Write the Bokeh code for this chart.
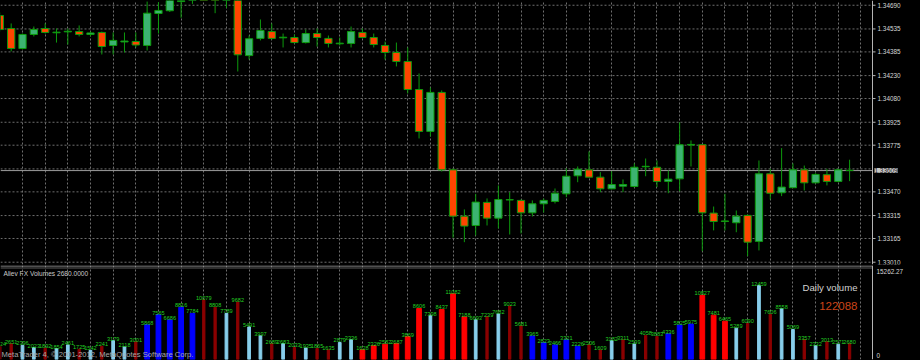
from bokeh.plotting import figure
from bokeh.layouts import column
from bokeh.models import Range1d, FixedTicker, Span, Label, ColumnDataSource, Grid
from bokeh.embed import file_html
from bokeh.resources import INLINE
from bokeh.core.properties import value

# ---------------- data ----------------
opens = [1.34623, 1.34538, 1.34407, 1.34499, 1.34538, 1.34510, 1.34516, 1.34518, 1.34499, 1.34512,
         1.34427, 1.34450, 1.34453, 1.34427, 1.34636, 1.34654, 1.34714, 1.34799, 1.34917, 1.34852,
         1.34760, 1.34839, 1.34361, 1.34473, 1.34518, 1.34477, 1.34479, 1.34446, 1.34505, 1.34473,
         1.34438, 1.34440, 1.34512, 1.34479, 1.34427, 1.34381, 1.34322, 1.34139, 1.33865, 1.34120,
         1.33614, 1.33311, 1.33250, 1.33401, 1.33298, 1.33417, 1.33414, 1.33333, 1.33392, 1.33407,
         1.33457, 1.33575, 1.33614, 1.33566, 1.33490, 1.33507, 1.33505, 1.33634, 1.33631, 1.33538,
         1.33555, 1.33776, 1.33778, 1.33331, 1.33280, 1.33268, 1.33316, 1.33146, 1.33588, 1.33464,
         1.33497, 1.33614, 1.33529, 1.33582, 1.33538, 1.33611]
highs = [1.34643, 1.34571, 1.34505, 1.34551, 1.34571, 1.34538, 1.34538, 1.34558, 1.34518, 1.34518,
         1.34512, 1.34512, 1.34512, 1.34714, 1.34710, 1.34819, 1.34884, 1.34956, 1.34982, 1.34904,
         1.34917, 1.34904, 1.34492, 1.34597, 1.34571, 1.34505, 1.34499, 1.34531, 1.34538, 1.34492,
         1.34479, 1.34551, 1.34538, 1.34505, 1.34453, 1.34446, 1.34414, 1.34244, 1.34152, 1.34133,
         1.33623, 1.33355, 1.33457, 1.33427, 1.33512, 1.33468, 1.33420, 1.33414, 1.33427, 1.33492,
         1.33623, 1.33636, 1.33734, 1.33599, 1.33605, 1.33551, 1.33656, 1.33688, 1.33675, 1.33610,
         1.33925, 1.33806, 1.33780, 1.33374, 1.33457, 1.33348, 1.33322, 1.33675, 1.33621, 1.33756,
         1.33656, 1.33642, 1.33592, 1.33621, 1.33621, 1.33680]
lows = [1.34518, 1.34388, 1.34401, 1.34486, 1.34505, 1.34446, 1.34433, 1.34486, 1.34486, 1.34368,
        1.34368, 1.34381, 1.34414, 1.34394, 1.34505, 1.34646, 1.34608, 1.34699, 1.34747, 1.34638,
        1.34673, 1.34257, 1.34335, 1.34460, 1.34466, 1.34414, 1.34440, 1.34440, 1.34420, 1.34414,
        1.34427, 1.34414, 1.34473, 1.34414, 1.34335, 1.34290, 1.34113, 1.33819, 1.33832, 1.33603,
        1.33170, 1.33141, 1.33185, 1.33250, 1.33231, 1.33191, 1.33198, 1.33309, 1.33335, 1.33394,
        1.33435, 1.33533, 1.33564, 1.33468, 1.33486, 1.33468, 1.33499, 1.33572, 1.33501, 1.33461,
        1.33474, 1.33636, 1.33082, 1.33218, 1.33218, 1.33206, 1.33050, 1.33087, 1.33420, 1.33442,
        1.33495, 1.33479, 1.33525, 1.33512, 1.33533, 1.33540]
closes = [1.34531, 1.34407, 1.34499, 1.34531, 1.34512, 1.34514, 1.34520, 1.34499, 1.34509, 1.34420,
          1.34460, 1.34456, 1.34430, 1.34638, 1.34656, 1.34786, 1.34839, 1.34930, 1.34773, 1.34760,
          1.34852, 1.34366, 1.34471, 1.34525, 1.34473, 1.34481, 1.34446, 1.34505, 1.34479, 1.34440,
          1.34442, 1.34518, 1.34479, 1.34433, 1.34381, 1.34322, 1.34139, 1.33865, 1.34120, 1.33614,
          1.33311, 1.33246, 1.33403, 1.33298, 1.33420, 1.33419, 1.33333, 1.33392, 1.33414, 1.33461,
          1.33572, 1.33618, 1.33566, 1.33490, 1.33518, 1.33518, 1.33631, 1.33637, 1.33538, 1.33553,
          1.33778, 1.33780, 1.33333, 1.33276, 1.33276, 1.33311, 1.33141, 1.33588, 1.33461, 1.33501,
          1.33614, 1.33529, 1.33584, 1.33538, 1.33614, 1.33609]
volumes = [2224, 2651, 2396, 2023, 1892, 1854, 2461, 1725, 1542, 2241,
           3179, 2118, 3001, 5868, 7565, 6686, 8816, 7784, 10079, 8808,
           7789, 9682, 5491, 3997, 2689, 2683, 2033, 1935, 1865, 1635,
           2879, 3336, 1628, 2326, 2582, 2687, 3869, 8606, 7398, 8437,
           11082, 7188, 6693, 7239, 7682, 9023, 5681, 3965, 2823, 2466,
           3321, 2226, 2506, 1609, 3182, 3311, 2599, 4058, 3883, 4336,
           5825, 5975, 10827, 7481, 6465, 5289, 6090, 12459, 7606, 8558,
           5069, 3357, 2332, 3013, 2571, 2680]
# U = strong up (blue), u = weak up (light blue), D = strong down (red), d = weak down (dark red)
vol_kind = ["d", "d", "u", "u", "d", "u", "u", "d", "u", "d",
            "u", "u", "d", "U", "U", "U", "U", "U", "d", "d",
            "u", "d", "u", "u", "d", "u", "d", "u", "d", "d",
            "u", "u", "D", "D", "D", "D", "D", "D", "u", "D",
            "D", "D", "u", "d", "u", "d", "d", "U", "U", "U",
            "U", "U", "d", "d", "u", "d", "u", "d", "d", "U",
            "U", "U", "D", "D", "D", "u", "d", "u", "d", "u",
            "u", "d", "u", "d", "u", "d"]
price_ticks = [1.34690, 1.34535, 1.34385, 1.34230, 1.34080, 1.33925, 1.33775,
               1.33470, 1.33315, 1.33165, 1.33010]
grid_levels = [1.34690, 1.34535, 1.34385, 1.34230, 1.34080, 1.33925, 1.33775,
               1.33620, 1.33470, 1.33315, 1.33165, 1.33010]
last_price = 1.33609
vol_max = 15262.27
daily_volume = 122088
indicator_name = "Aliev FX Volumes"
last_volume_value = 2680.0

# ---------------- style constants ----------------
FONT = "Liberation Sans"
BG = "#000000"
GRID_COL = "#6e6e6e"
WICK = "#0d9a0d"
BULL = "#3cb371"
BEAR = "#ff4500"
AXIS_TXT = "#d6d6d6"
AXIS_LINE = "#b4b4b4"
PXU = 11.33                      # pixels per bar
X0 = 0.058
XR = X0 + 920 / PXU              # full width of the page
XA = X0 + 872 / PXU              # price scale border
P_TOP, P_BOT = 1.34721, 1.32995
H1, H2 = 265, 95
FRAME2 = 94
V_END = vol_max * FRAME2 / 90.5
dpp2 = V_END / FRAME2

def vy(px):
    return V_END - px * dpp2

N = len(opens)
idx = list(range(N))
vgrid_ticks = list(range(2, 77, 2))

# ---------------- price pane ----------------
p1 = figure(width=920, height=H1, x_range=Range1d(X0, XR), y_range=Range1d(P_BOT, P_TOP),
            output_backend="svg", toolbar_location=None, title=None,
            x_axis_location=None, y_axis_location=None,
            min_border_left=0, min_border_top=0, min_border_bottom=1, min_border_right=0)
p1.background_fill_color = BG
p1.border_fill_color = BG
p1.outline_line_color = None
for g in p1.grid:
    g.visible = False
p1.add_layout(Grid(dimension=0, ticker=FixedTicker(ticks=vgrid_ticks), grid_line_color=GRID_COL,
                   grid_line_dash="2 2"))
p1.segment(x0=X0, x1=XA, y0=grid_levels, y1=grid_levels, line_color=GRID_COL, line_dash="2 2",
           line_width=1)
p1.segment(x0=X0, x1=XA, y0=last_price, y1=last_price, line_color="#9c9c9c", line_width=1)

# price scale
p1.add_layout(Span(location=XA, dimension="height", line_color=AXIS_LINE, line_width=1))
p1.segment(x0=XA, x1=XA + 3 / PXU, y0=price_ticks, y1=price_ticks, line_color=AXIS_LINE)
p1.text(x=XA, y=price_ticks, text=[f"{t:.5f}" for t in price_ticks], x_offset=5,
        text_font=value(FONT), text_font_size="6.4px", text_color=AXIS_TXT,
        text_baseline="middle", text_align="left")

bull = [i for i in idx if closes[i] >= opens[i]]
bear = [i for i in idx if closes[i] < opens[i]]
p1.segment(x0=idx, y0=lows, x1=idx, y1=highs, line_color=WICK, line_width=1)
p1.vbar(x=bull, width=0.64, top=[closes[i] for i in bull], bottom=[opens[i] for i in bull],
        fill_color=BULL, line_color=WICK, line_width=1)
p1.vbar(x=bear, width=0.64, top=[opens[i] for i in bear], bottom=[closes[i] for i in bear],
        fill_color=BEAR, line_color=WICK, line_width=1)

p1.add_layout(Label(x=XA, y=last_price, x_offset=2, text=f"{last_price:.5f}", text_baseline="middle",
                    text_font=FONT, text_font_size="6.4px", text_color="#1a1a1a",
                    background_fill_color="#c6c6c6"))

# ---------------- volume pane ----------------
p2 = figure(width=920, height=H2, x_range=p1.x_range, y_range=Range1d(0, V_END),
            output_backend="svg", toolbar_location=None, title=None,
            x_axis_location=None, y_axis_location=None,
            min_border_left=0, min_border_top=0, min_border_bottom=1, min_border_right=0)
p2.background_fill_color = BG
p2.border_fill_color = BG
p2.outline_line_color = None
for g in p2.grid:
    g.visible = False
p2.add_layout(Grid(dimension=0, ticker=FixedTicker(ticks=vgrid_ticks), grid_line_color=GRID_COL,
                   grid_line_dash="2 2"))
p2.add_layout(Span(location=XA, dimension="height", line_color=AXIS_LINE, line_width=1))
p2.segment(x0=X0, x1=XA, y0=vy(0.5), y1=vy(0.5), line_color="#a0a0a0", line_width=1)
p2.segment(x0=X0, x1=XA, y0=vy(2.5), y1=vy(2.5), line_color="#5a5a5a", line_width=1)

kind_color = {"U": "#0000ff", "u": "#87ceeb", "D": "#ff0000", "d": "#8b0000"}
kind_width = {"U": 0.42, "u": 0.24, "D": 0.42, "d": 0.2}
src = ColumnDataSource(dict(x=idx, v=volumes,
                            c=[kind_color[k] for k in vol_kind],
                            w=[kind_width[k] for k in vol_kind],
                            t=[str(v) for v in volumes]))
p2.vbar(x="x", top="v", bottom=0, width="w", fill_color="c", line_color="c", source=src)
p2.text(x="x", y="v", text="t", source=src, text_font=value(FONT), text_font_size="5.6px",
        text_color="#22d022", text_align="center", text_baseline="bottom")

p2.add_layout(Label(x=X0, y=vy(8), x_offset=3, text=f"{indicator_name} {last_volume_value:.4f}",
                    text_baseline="middle", text_font=FONT, text_font_size="6.6px",
                    text_color="#c8c8c8"))
p2.add_layout(Label(x=X0, y=vy(88.5), x_offset=1,
                    text="MetaTrader 4, \u00a9 2001-2012, MetaQuotes Software Corp.",
                    text_baseline="middle", text_font=FONT, text_font_size="7.6px",
                    text_color="#a8a8a8"))
p2.add_layout(Label(x=XA, y=vy(22), x_offset=-15, text="Daily volume", text_align="right",
                    text_baseline="middle", text_font=FONT, text_font_size="9.6px",
                    text_color="#d2d2d2"))
p2.add_layout(Label(x=XA, y=vy(40), x_offset=-15, text=str(daily_volume), text_align="right",
                    text_baseline="middle", text_font=FONT, text_font_size="11.5px",
                    text_color="#cc4418"))
p2.add_layout(Label(x=XA, y=vy(5.7), x_offset=4, text=f"{vol_max:.2f}",
                    text_baseline="middle", text_font=FONT, text_font_size="6.4px",
                    text_color=AXIS_TXT))
p2.add_layout(Label(x=XA, y=vy(90), x_offset=4, text="0",
                    text_baseline="middle", text_font=FONT, text_font_size="6.4px",
                    text_color=AXIS_TXT))

layout = column(p1, p2, spacing=0, styles={"background-color": "#000000"})
open("out.html", "w").write(file_html(layout, INLINE))
